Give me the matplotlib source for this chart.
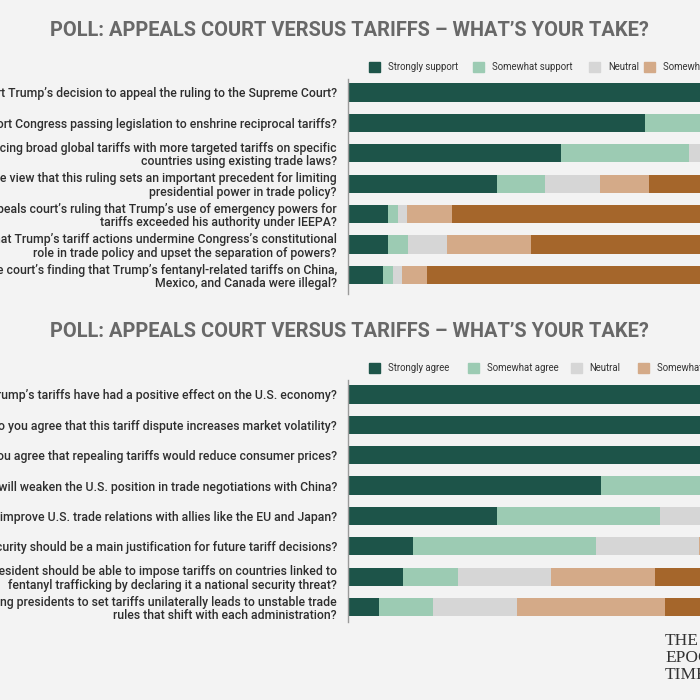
import matplotlib
matplotlib.use("Agg")
import matplotlib.pyplot as plt
from matplotlib.patches import Rectangle

W = H = 700
BG = "#f3f3f3"
COLORS = ["#1d5449", "#9ccbb3", "#d6d6d6", "#d4aa88", "#a5662b"]

TITLE = "POLL: APPEALS COURT VERSUS TARIFFS \u2013 WHAT\u2019S YOUR TAKE?"

# ---- top poll (support / oppose), percent of respondents ----
top_questions = [
    "Do you support Trump\u2019s decision to appeal the ruling to the Supreme Court?",
    "Do you support Congress passing legislation to enshrine reciprocal tariffs?",
    "Do you support replacing broad global tariffs with more targeted tariffs on specific\ncountries using existing trade laws?",
    "Do you agree with the view that this ruling sets an important precedent for limiting\npresidential power in trade policy?",
    "Do you agree with the appeals court\u2019s ruling that Trump\u2019s use of emergency powers for\ntariffs exceeded his authority under IEEPA?",
    "Do you agree that Trump\u2019s tariff actions undermine Congress\u2019s constitutional\nrole in trade policy and upset the separation of powers?",
    "Do you agree with the court\u2019s finding that Trump\u2019s fentanyl-related tariffs on China,\nMexico, and Canada were illegal?",
]
top_categories = ["Strongly support", "Somewhat support", "Neutral",
                  "Somewhat oppose", "Strongly oppose"]
top_strong_support = [78.0, 59.4, 42.5, 29.7, 7.9, 7.9, 6.9]
top_some_support = [12.0, 25.0, 25.6, 9.6, 2.1, 4.0, 2.0]
top_neutral = [4.0, 6.0, 12.0, 11.1, 1.8, 7.9, 1.9]
top_some_oppose = [3.0, 5.0, 10.0, 9.8, 9.0, 16.8, 5.0]
top_strong_oppose = [3.0, 4.6, 9.9, 39.8, 79.2, 63.4, 84.2]

# ---- bottom poll (agree / disagree) ----
bot_questions = [
    "Do you agree that Trump\u2019s tariffs have had a positive effect on the U.S. economy?",
    "Do you agree that this tariff dispute increases market volatility?",
    "Do you agree that repealing tariffs would reduce consumer prices?",
    "Do you agree the ruling will weaken the U.S. position in trade negotiations with China?",
    "Do you agree the ruling will improve U.S. trade relations with allies like the EU and Japan?",
    "Do you agree national security should be a main justification for future tariff decisions?",
    "Do you agree the president should be able to impose tariffs on countries linked to\nfentanyl trafficking by declaring it a national security threat?",
    "Do you agree allowing presidents to set tariffs unilaterally leads to unstable trade\nrules that shift with each administration?",
]
bot_categories = ["Strongly agree", "Somewhat agree", "Neutral",
                  "Somewhat disagree", "Strongly disagree"]
bot_strong_agree = [80.0, 76.0, 72.0, 50.5, 29.7, 12.9, 10.9, 6.1]
bot_some_agree = [10.0, 14.0, 15.0, 28.0, 32.7, 36.6, 11.0, 10.8]
bot_neutral = [5.0, 5.0, 7.0, 10.0, 20.0, 20.6, 18.6, 16.8]
bot_some_disagree = [3.0, 3.0, 4.0, 7.0, 10.0, 15.0, 20.8, 29.7]
bot_strong_disagree = [2.0, 2.0, 2.0, 4.5, 7.6, 14.9, 38.7, 36.6]

plt.rcParams["font.family"] = "Roboto"

fig = plt.figure(figsize=(7, 7), dpi=100, facecolor=BG)


def fx(x):
    return x / W


def fy(y):
    return 1 - y / H


def panel(top_px, bottom_px, first_row_px, row_step, questions, series):
    n = len(questions)
    ax = fig.add_axes([fx(348), fy(bottom_px), 500 / W, (bottom_px - top_px) / H])
    ax.set_facecolor(BG)
    ys = list(range(n))
    left = [0.0] * n
    for vals, col in zip(series, COLORS):
        ax.barh(ys, vals, left=left, height=0.6, color=col, linewidth=0)
        left = [a + b for a, b in zip(left, vals)]
    ax.set_xlim(0, 100)
    ax.set_ylim((bottom_px - first_row_px) / row_step,
                (top_px - first_row_px) / row_step)
    ax.set_xticks([])
    ax.set_yticks(ys)
    ax.set_yticklabels(questions, fontsize=8.8, color="#2e2e2e",
                       fontweight="medium", linespacing=1.05)
    ax.tick_params(axis="y", length=0, pad=8)
    for s in ("top", "right", "bottom"):
        ax.spines[s].set_visible(False)
    ax.spines["left"].set_color("#9a9a9a")
    ax.spines["left"].set_linewidth(1.0)
    return ax


def legend(y_px, labels, xs):
    for lab, x, col in zip(labels, xs, COLORS):
        fig.patches.append(Rectangle((fx(x), fy(y_px + 5)), 11 / W, 10 / H,
                                     transform=fig.transFigure, color=col))
        fig.text(fx(x + 19), fy(y_px), lab, fontsize=6.9, color="#333333",
                 va="center", ha="left")


# titles
for base in (36, 337):
    fig.text(fx(349.5), fy(base), TITLE, ha="center", va="baseline",
             fontsize=14.4, fontweight="bold", color="#686868")

legend(67, top_categories, [369.3, 472.7, 589.3, 644, 760])
legend(368, bot_categories, [369.3, 467.7, 570.7, 637.7, 760])

panel(79, 294, 92.5, 30.42, top_questions,
      [top_strong_support, top_some_support, top_neutral,
       top_some_oppose, top_strong_oppose])
panel(380, 622, 394.5, 30.36, bot_questions,
      [bot_strong_agree, bot_some_agree, bot_neutral,
       bot_some_disagree, bot_strong_disagree])

# publisher mark
fig.text(fx(665), fy(658), "THE\nEPOCH\nTIMES", ha="left", va="center",
         family="Liberation Serif", fontsize=12.5, color="#333333",
         linespacing=1.05)

fig.savefig("out.png", dpi=100, facecolor=BG)
